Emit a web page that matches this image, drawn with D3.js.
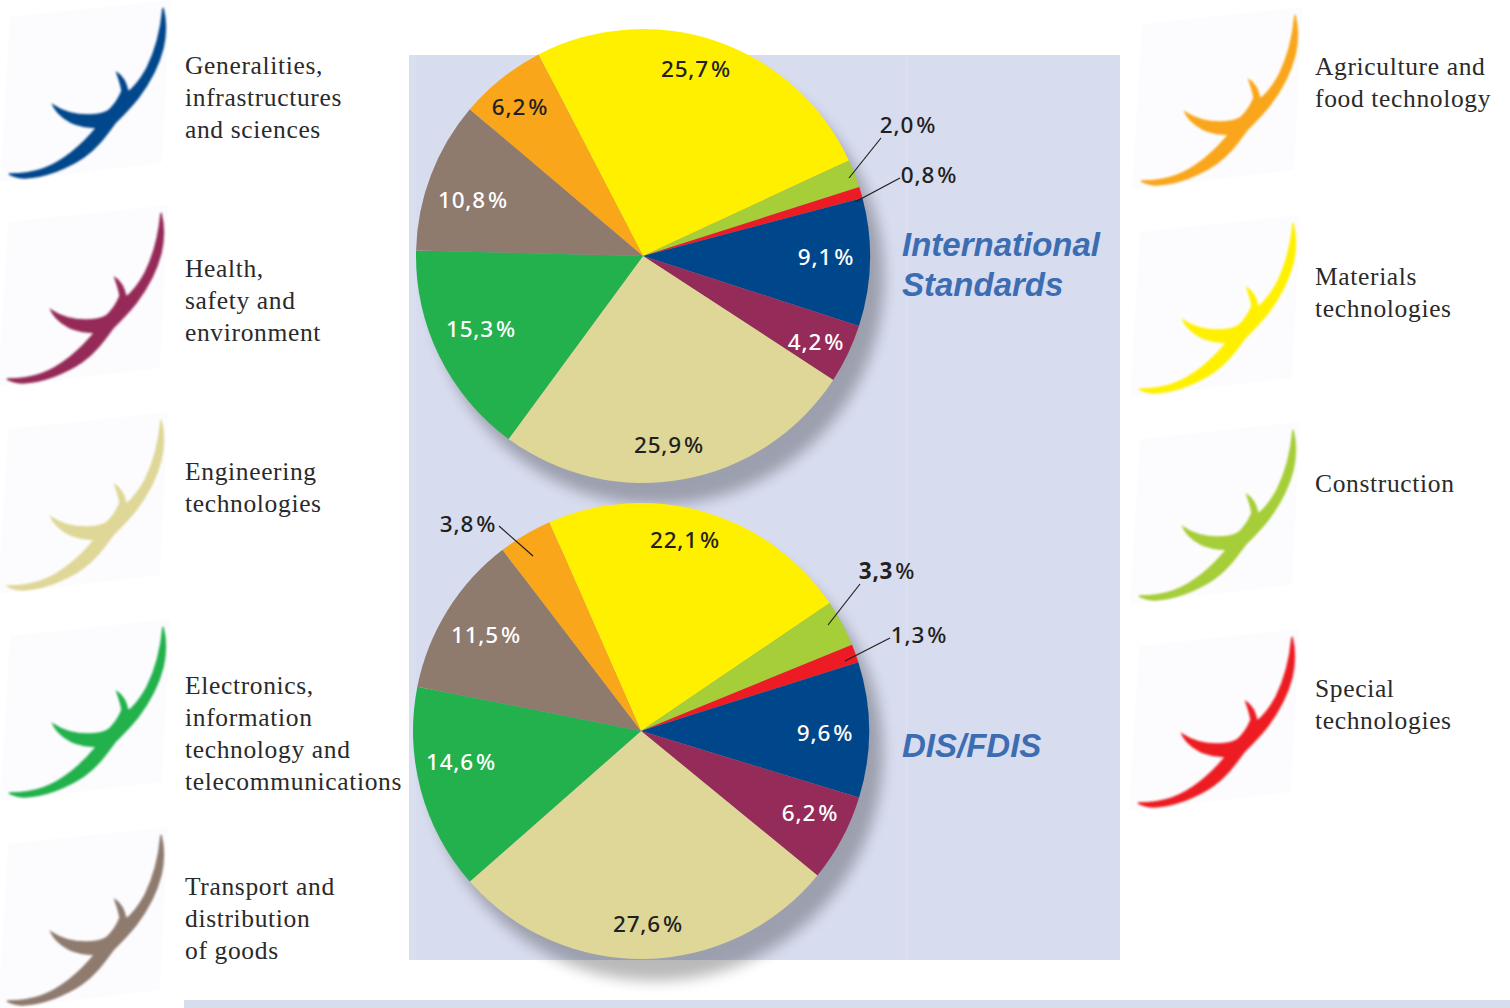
<!DOCTYPE html>
<html>
<head>
<meta charset="utf-8">
<script src="https://cdn.jsdelivr.net/npm/d3@7"></script>
<style>
html, body { margin: 0; padding: 0; background: #fff; }
svg { display: block; }
.legend { font-family: "Liberation Serif", serif; font-size: 25.5px; fill: #2a2a2a; letter-spacing: 0.65px; }
.pct { font-family: "Noto Sans", sans-serif; font-size: 22.5px; font-weight: 500; text-anchor: middle; letter-spacing: 0.8px; }
.title { font-family: "Liberation Sans", sans-serif; font-size: 33px; font-weight: bold; font-style: italic; fill: #3c6db3; }
</style>
</head>
<body>
<div id="chart"></div>
<script>
// Data
var categories = ["Materials technologies", "Construction", "Special technologies",
    "Generalities, infrastructures and sciences", "Health, safety and environment",
    "Engineering technologies", "Electronics, information technology and telecommunications",
    "Transport and distribution of goods", "Agriculture and food technology"];
var intlStandards = [25.7, 2.0, 0.8, 9.1, 4.2, 25.9, 15.3, 10.8, 6.2];
var disFdis = [22.1, 3.3, 1.3, 9.6, 6.2, 27.6, 14.6, 11.5, 3.8];

var colors = ["#fff000", "#a6ce39", "#ed1c24", "#00468b", "#952b58", "#dfd797", "#22b14c", "#8f7a6e", "#f9a61a"];
var labelColors = ["#231f20", "#231f20", "#231f20", "#fff", "#fff", "#231f20", "#fff", "#fff", "#231f20"];

// Layout only: label anchors and leaders, as offsets from the pie centre
var topPie = {
    values: intlStandards, cx: 643, cy: 256, r: 227, start: -27.4,
    labels: [[53, -179], [265, -123], [286, -73], [183, 9], [173, 94], [26, 197], [-162, 81], [-170, -48], [-123, -141]],
    leaders: {1: [[238, -118], [206, -78]], 2: [[257, -78], [212, -54]]}
};
var bottomPie = {
    values: disFdis, cx: 641, cy: 731, r: 228, start: -23.7,
    boldLabel: 1,
    labels: [[44, -183], [246, -152], [278, -88], [184, 10], [169, 90], [7, 201], [-180, 39], [-155, -88], [-173, -199]],
    leaders: {1: [[219, -147], [187, -106]], 2: [[249, -93], [204, -70]], 8: [[-142, -205], [-108, -175]]}
};

var leftLegend = [
    {lines: ["Generalities,", "infrastructures", "and sciences"], y: 74, color: colors[3], bird: [0, 0]},
    {lines: ["Health,", "safety and", "environment"], y: 277, color: colors[4], bird: [-2, 205]},
    {lines: ["Engineering", "technologies"], y: 480, color: colors[5], bird: [-2, 412]},
    {lines: ["Electronics,", "information", "technology and", "telecommunications"], y: 694, color: colors[6], bird: [0, 619]},
    {lines: ["Transport and", "distribution", "of goods"], y: 895, color: colors[7], bird: [-2, 827]}
];
var rightLegend = [
    {lines: ["Agriculture and", "food technology"], y: 75, color: colors[8], bird: [1132, 7]},
    {lines: ["Materials", "technologies"], y: 285, color: colors[0], bird: [1130, 215]},
    {lines: ["Construction"], y: 492, color: colors[1], bird: [1130, 422]},
    {lines: ["Special", "technologies"], y: 697, color: colors[2], bird: [1129, 629]}
];

var svg = d3.select("#chart").append("svg").attr("width", 1510).attr("height", 1008);

var defs = svg.append("defs");
var shadow = defs.append("filter").attr("id", "pieShadow")
    .attr("x", "-20%").attr("y", "-20%").attr("width", "140%").attr("height", "140%");
shadow.append("feGaussianBlur").attr("stdDeviation", 7);
var soft = defs.append("filter").attr("id", "soft");
soft.append("feGaussianBlur").attr("stdDeviation", 1.1);

// Background panel
svg.append("rect").attr("x", 409).attr("y", 55).attr("width", 711).attr("height", 905).attr("fill", "#d7dcef");
svg.append("rect").attr("x", 409).attr("y", 55).attr("width", 7).attr("height", 905).attr("fill", "#dadff0");
svg.append("rect").attr("x", 906).attr("y", 55).attr("width", 1).attr("height", 905).attr("fill", "#dde1f2");
svg.append("rect").attr("x", 184).attr("y", 1000).attr("width", 1326).attr("height", 8).attr("fill", "#d7dcef");

// Pies
var pie = d3.pie().sort(null).value(function (d) { return d; });

function drawPie(p) {
    var rad = p.start * Math.PI / 180;
    var arcs = pie.startAngle(rad).endAngle(rad + 2 * Math.PI)(p.values);
    var arc = d3.arc().innerRadius(0).outerRadius(p.r);

    svg.append("circle")
        .attr("cx", p.cx + 14).attr("cy", p.cy + 22).attr("r", p.r)
        .attr("fill", "#000").attr("opacity", 0.27)
        .attr("filter", "url(#pieShadow)");

    var g = svg.append("g").attr("transform", "translate(" + p.cx + "," + p.cy + ")");
    g.selectAll("path").data(arcs).enter().append("path")
        .attr("d", arc)
        .attr("fill", function (d, i) { return colors[i]; });

    var labels = g.selectAll("text").data(arcs).enter().append("text")
        .attr("class", "pct")
        .attr("x", function (d, i) { return p.labels[i][0]; })
        .attr("y", function (d, i) { return p.labels[i][1]; })
        .attr("fill", function (d, i) { return labelColors[i]; });
    labels.append("tspan")
        .attr("font-weight", function (d, i) { return i === p.boldLabel ? 700 : null; })
        .text(function (d) { return d.value.toFixed(1).replace(".", ","); });
    labels.append("tspan").attr("dx", 2).text("%");

    Object.keys(p.leaders).forEach(function (k) {
        g.append("path")
            .attr("d", d3.line()(p.leaders[k]))
            .attr("stroke", "#231f20").attr("stroke-width", 1.2).attr("fill", "none");
    });
}
drawPie(topPie);
drawPie(bottomPie);

// Titles
svg.append("text").attr("class", "title").attr("x", 902).attr("y", 256).text("International");
svg.append("text").attr("class", "title").attr("x", 902).attr("y", 296).text("Standards");
svg.append("text").attr("class", "title").attr("x", 902).attr("y", 757).text("DIS/FDIS");

// Legend birds
var birdShape = "M163,8 C166,20 166,35 163,48 C158,68 150,82 138,98 C130,108 122,116 115,123 " +
    "C106,135 98,147 84,157 C68,168 45,177 25,178 C18,178 13,176 9,174 " +
    "C20,174 32,173 43,169 C62,162 82,146 97,127 C84,128 72,124 64,118 C59,114 55,110 53,105 " +
    "C62,111 74,115 88,115 C96,115 103,114 108,111 C114,106 119,98 122,91 " +
    "C121,84 119,79 117,73 C122,76 126,82 128,92 C135,87 142,77 147,68 C156,50 161,30 163,8 Z";
var squareShape = "M10,17 L170,0 L162,163 L0,182 Z";

function drawLegend(items, x) {
    items.forEach(function (d) {
        var b = svg.append("g").attr("transform", "translate(" + d.bird[0] + "," + d.bird[1] + ")");
        b.append("path").attr("d", squareShape).attr("fill", "#fcfcfe");
        b.append("path").attr("d", birdShape)
            .attr("fill", d.color).attr("stroke", d.color).attr("stroke-width", 1.5)
            .attr("filter", "url(#soft)");
        d.lines.forEach(function (line, i) {
            svg.append("text").attr("class", "legend")
                .attr("x", x).attr("y", d.y + i * 32).text(line);
        });
    });
}
drawLegend(leftLegend, 185);
drawLegend(rightLegend, 1315);
</script>
</body>
</html>
